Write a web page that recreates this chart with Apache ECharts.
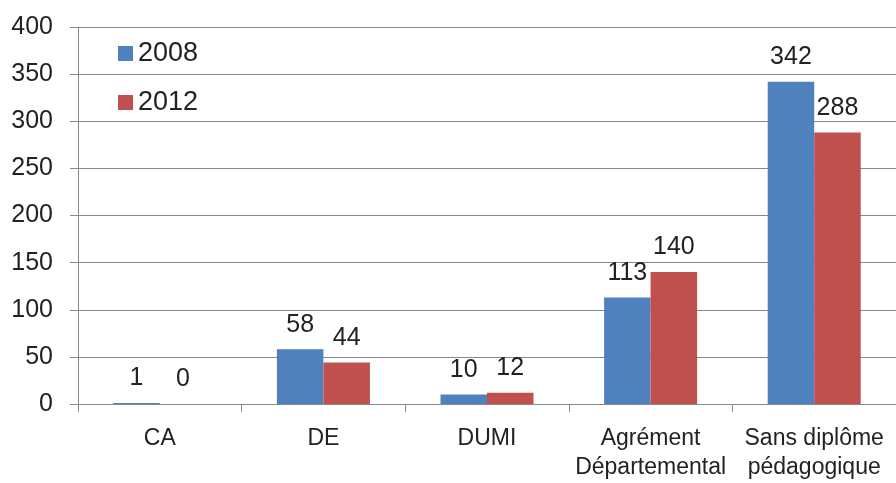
<!DOCTYPE html>
<html>
<head>
<meta charset="utf-8">
<script src="https://cdn.jsdelivr.net/npm/echarts@6/dist/echarts.min.js"></script>
<style>
    html, body { margin: 0; padding: 0; background: #fff; }
    #chart { width: 896px; height: 483px; }
</style>
</head>
<body>
<div id="chart"></div>
<script>
    var categories = ['CA', 'DE', 'DUMI', 'Agrément\nDépartemental', 'Sans diplôme\npédagogique'];
    var values2008 = [1, 58, 10, 113, 342];
    var values2012 = [0, 44, 12, 140, 288];

    var font = '"Liberation Sans", "DejaVu Sans", sans-serif';
    var myChart = echarts.init(document.getElementById('chart'));

    var option = {
        backgroundColor: '#fff',
        animation: false,
        textStyle: { fontFamily: font },
        grid: {
            left: 78,
            right: -8,
            top: 27,
            bottom: 79
        },
        legend: {
            orient: 'vertical',
            left: 113,
            top: 35,
            itemWidth: 15,
            itemHeight: 15,
            itemGap: 22,
            icon: 'rect',
            textStyle: { fontSize: 27, color: '#222', fontFamily: font },
            data: ['2008', '2012']
        },
        xAxis: {
            type: 'category',
            data: categories,
            axisLine: { lineStyle: { color: '#888', width: 1 } },
            axisTick: { show: true, interval: 0, length: 8, lineStyle: { color: '#888' } },
            axisLabel: {
                interval: 0,
                color: '#222',
                fontSize: 23,
                lineHeight: 29,
                margin: 20,
                fontFamily: font
            }
        },
        yAxis: {
            type: 'value',
            min: 0,
            max: 400,
            interval: 50,
            axisLine: { show: true, lineStyle: { color: '#888', width: 1 } },
            axisTick: { show: true, length: 8, lineStyle: { color: '#888' } },
            splitLine: { show: true, lineStyle: { color: '#888', width: 1 } },
            axisLabel: {
                color: '#222',
                fontSize: 25,
                margin: 25,
                fontFamily: font
            }
        },
        series: [
            {
                name: '2008',
                type: 'bar',
                data: values2008,
                barWidth: 46.5,
                barGap: '0%',
                itemStyle: { color: '#4F81BD' },
                label: {
                    show: true,
                    position: 'top',
                    distance: 12,
                    color: '#222',
                    fontSize: 25,
                    fontFamily: font
                }
            },
            {
                name: '2012',
                type: 'bar',
                data: values2012,
                barWidth: 46.5,
                barGap: '0%',
                itemStyle: { color: '#C0504D' },
                label: {
                    show: true,
                    position: 'top',
                    distance: 12,
                    color: '#222',
                    fontSize: 25,
                    fontFamily: font
                }
            }
        ]
    };
    myChart.setOption(option, true);
</script>
</body>
</html>
